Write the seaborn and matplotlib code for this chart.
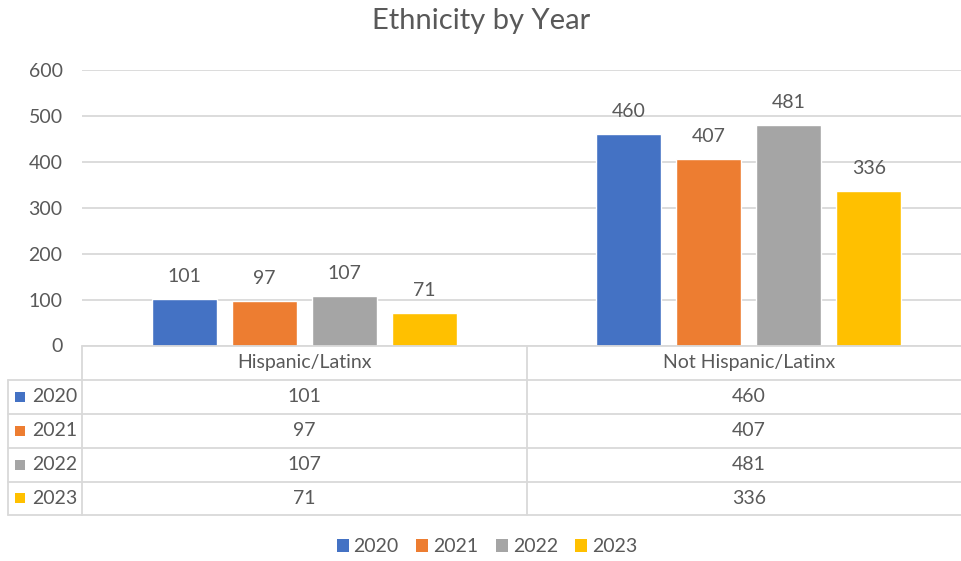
import matplotlib
matplotlib.use("Agg")
import matplotlib.pyplot as plt
import seaborn as sns
import pandas as pd
from matplotlib.patches import Rectangle, Patch
from matplotlib.lines import Line2D
import matplotlib.transforms as mtransforms

categories = ["Hispanic/Latinx", "Not Hispanic/Latinx"]
years = ["2020", "2021", "2022", "2023"]
values_2020 = [101, 460]
values_2021 = [97, 407]
values_2022 = [107, 481]
values_2023 = [71, 336]
colors = ["#4472C4", "#ED7D31", "#A5A5A5", "#FFC000"]
yticks = [0, 100, 200, 300, 400, 500, 600]
title = "Ethnicity by Year"

series = [values_2020, values_2021, values_2022, values_2023]
rows = []
for yr, vals in zip(years, series):
    for cat, v in zip(categories, vals):
        rows.append({"category": cat, "year": yr, "value": v})
df = pd.DataFrame(rows)

sns.set_theme(style="white")
plt.rcParams["font.family"] = ["Lato", "DejaVu Sans"]
TXT = "#595959"
GRID = "#D9D9D9"
FS = 14

W, H = 962, 561
fig = plt.figure(figsize=(W / 100, H / 100), dpi=100)

def fx(x):
    return x / W

def fy(y):
    return 1 - y / H

ax_left, ax_right, ax_top, ax_bot = 82, 971, 70, 345.5
ax = fig.add_axes([fx(ax_left), fy(ax_bot), (ax_right - ax_left) / W, (ax_bot - ax_top) / H])

sns.barplot(data=df, x="category", y="value", hue="year", hue_order=years,
            order=categories, palette=colors, width=0.72, gap=0.19,
            saturation=1, legend=False, ax=ax, errorbar=None)

ax.set_xlim(-0.5, 1.5)
ax.set_ylim(0, 600)
ax.set_yticks(yticks)
ax.set_yticklabels([str(t) for t in yticks], color=TXT, fontsize=FS)
ax.tick_params(axis="y", length=0, pad=14)
ax.set_xticks([])
ax.set_xlabel("")
ax.set_ylabel("")
for s in ax.spines.values():
    s.set_visible(False)
ax.grid(axis="y", color=GRID, lw=1.3)
ax.set_axisbelow(True)

for cont in ax.containers:
    ax.bar_label(cont, padding=10, color=TXT, fontsize=FS)

fig.text(0.5, fy(20.5), title, ha="center", va="center", fontsize=21, color=TXT)

# ---- data table ----
bt = mtransforms.blended_transform_factory(ax.transData, fig.transFigure)
row_lines = [345.5, 380, 413.5, 447.5, 481.5, 515]
lw = 1.3
for y in row_lines:
    fig.add_artist(Line2D([-0.5, 1.5], [fy(y), fy(y)], transform=bt, color=GRID, lw=lw))
for y in row_lines[1:]:
    fig.add_artist(Line2D([fx(8), fx(ax_left)], [fy(y), fy(y)], transform=fig.transFigure, color=GRID, lw=lw))
for xd in [-0.5, 0.5, 1.5]:
    fig.add_artist(Line2D([xd, xd], [fy(345.5), fy(515)], transform=bt, color=GRID, lw=lw))
fig.add_artist(Line2D([fx(8), fx(8)], [fy(380), fy(515)], transform=fig.transFigure, color=GRID, lw=lw))

for i, cat in enumerate(categories):
    fig.text(i, fy(362.5), cat, transform=bt, ha="center", va="center", fontsize=FS, color=TXT)

for r, (yr, vals, c) in enumerate(zip(years, series, colors)):
    yc = (row_lines[r + 1] + row_lines[r + 2]) / 2
    fig.add_artist(Rectangle((fx(15), fy(yc + 5)), fx(10), 10 / H, transform=fig.transFigure,
                             facecolor=c, edgecolor="none"))
    fig.text(fx(32), fy(yc), yr, ha="left", va="center", fontsize=FS, color=TXT)
    for i, v in enumerate(vals):
        fig.text(i, fy(yc), str(v), transform=bt, ha="center", va="center", fontsize=FS, color=TXT)

handles = [Patch(facecolor=c, edgecolor="none") for c in colors]
leg = fig.legend(handles, years, loc="center", bbox_to_anchor=(fx(487), fy(547)), ncol=4,
                 frameon=False, fontsize=FS, handlelength=0.62, handleheight=0.62,
                 handletextpad=0.25, columnspacing=0.9)
for t in leg.get_texts():
    t.set_color(TXT)

fig.savefig("out.png", dpi=100)
